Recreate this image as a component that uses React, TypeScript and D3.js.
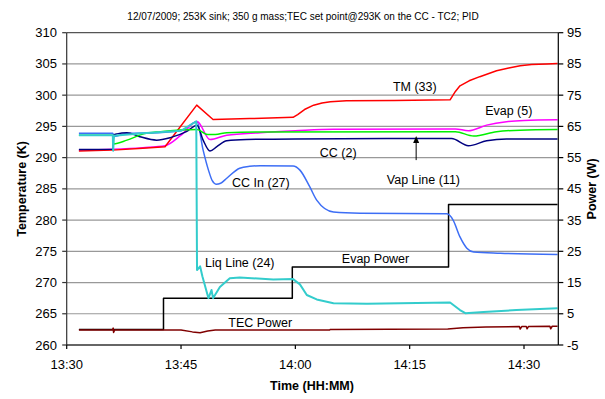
import React from 'react';
import * as d3 from 'd3';

// ---------- data (time = minutes after 13:30) ----------
const TITLE = '12/07/2009; 253K sink; 350 g mass;TEC set point@293K on the CC - TC2; PID';
const TEMP_TICKS = [260, 265, 270, 275, 280, 285, 290, 295, 300, 305, 310];
const POWER_TICKS = [-5, 5, 15, 25, 35, 45, 55, 65, 75, 85, 95];
const TIME_TICKS = ['13:30', '13:45', '14:00', '14:15', '14:30'];
const TIME_END = '14:34:30';

const TM_33: [number, number][] = [
  [1.6, 291.05], [6, 291.2], [10, 291.5], [12.9, 291.75], [17.06, 298.4], [19.2, 296.1],
  [24, 296.25], [29.7, 296.45], [30.3, 296.9], [31.2, 297.7], [32.4, 298.4], [33.5, 298.75],
  [34.6, 298.95], [36.7, 299.1], [43, 299.15], [50.3, 299.25], [51.0, 300.6], [51.6, 301.5],
  [52.8, 302.3], [54.2, 302.96], [56.4, 303.9], [58, 304.35], [59.5, 304.7], [61, 304.9],
  [63, 305.0], [64.4, 305.05],
];
const EVAP_5: [number, number][] = [
  [1.6, 291.2], [6, 291.35], [10, 291.6], [12.9, 291.9], [15, 293.6], [17.1, 295.8],
  [18.8, 292.9], [21, 293.6], [25.4, 294.0], [30, 294.3], [35, 294.55], [51, 294.6],
  [52.7, 294.3], [55.1, 295.2], [57.7, 295.75], [60, 295.95], [64.4, 296.05],
];
const VAP_LINE_11: [number, number][] = [
  [1.6, 293.6], [6.05, 293.6], [6.15, 292.2], [7.9, 292.8], [10.1, 293.8], [12.3, 294.15],
  [17.1, 294.5], [18.5, 293.7], [19.5, 293.7], [21, 294.0], [25, 294.1], [51, 294.15],
  [53.4, 293.45], [56.4, 294.15], [59.5, 294.4], [64.4, 294.5],
];
const CC_2: [number, number][] = [
  [1.6, 291.3], [6.05, 291.35], [6.15, 293.6], [6.6, 293.8], [7.9, 294.0], [9.6, 293.35],
  [11.8, 292.8], [13.6, 293.2], [15.7, 294.15], [17.1, 295.2], [17.9, 292.8], [18.8, 291.05],
  [19.7, 291.75], [21, 292.7], [23.6, 292.9], [30, 293.0], [50.5, 293.05], [52.7, 291.9],
  [55.1, 292.7], [57.7, 293.0], [64.4, 293.0],
];
const CC_IN_27: [number, number][] = [
  [1.6, 293.9], [6.05, 293.9], [6.2, 293.4], [8, 293.9], [12, 294.0], [15, 294.3],
  [17.1, 295.75], [17.9, 291.2], [18.6, 288.0], [19.1, 286.3], [19.6, 285.75], [20.2, 285.9],
  [21, 286.7], [22.7, 288.3], [24, 288.6], [25.4, 288.7], [29.7, 288.65], [30.6, 288.0],
  [31.9, 285.3], [32.8, 283.2], [35, 281.3], [38.5, 281.1], [49.9, 281.0], [50.7, 280.0],
  [51.6, 277.3], [52.5, 275.5], [53.4, 274.9], [56.9, 274.7], [64.4, 274.5],
];
const LIQ_LINE_24: [number, number][] = [
  [1.6, 293.6], [6.05, 293.6], [6.1, 291.1], [6.2, 293.5], [10, 293.9], [15, 294.3],
  [17.0, 295.8], [17.1, 272.0], [17.5, 272.6], [17.8, 271.0], [18.6, 267.5], [19.0, 268.8],
  [19.2, 267.5], [20.1, 269.3], [21.4, 270.7], [22.7, 270.8], [27.1, 270.5], [29.7, 270.55],
  [30.6, 269.7], [31.5, 268.0], [32.8, 267.3], [35, 266.7], [39.4, 266.6], [50.3, 266.8],
  [51.6, 265.6], [52.3, 265.1], [54.7, 265.3], [59, 265.6], [64.4, 265.9],
];
const EVAP_POWER: [number, number][] = [
  [1.6, 0], [12.7, 10], [29.6, 20], [50.1, 40], [64.4, 40],
];
const TEC_POWER: [number, number][] = [
  [1.6, -0.2], [6.0, -0.2], [6.1, 0.4], [6.15, -1.0], [6.3, -0.2], [15, -0.2], [16.5, -0.8],
  [17.5, -1.1], [18.5, -0.5], [19.5, -0.2], [34.5, -0.2], [34.6, 0], [50, 0.1], [52, 0.5],
  [55, 0.8], [59.4, 0.9], [59.5, 0.1], [59.7, 0.9], [60.3, 0.9], [60.4, 0.2], [60.6, 0.95],
  [63.4, 1.0], [63.5, 0.2], [63.7, 1.0], [64.4, 1.0],
];

// annotation anchor points in (minutes, temperature K)
const LABELS: { text: string; t: number; v: number }[] = [
  { text: 'TM (33)', t: 42.8, v: 300.6 },
  { text: 'Evap (5)', t: 54.9, v: 296.8 },
  { text: 'CC (2)', t: 33.2, v: 290.1 },
  { text: 'Vap Line (11)', t: 42.0, v: 285.8 },
  { text: 'CC In (27)', t: 21.7, v: 285.3 },
  { text: 'Liq Line (24)', t: 18.15, v: 272.5 },
  { text: 'Evap Power', t: 36.1, v: 273.05 },
  { text: 'TEC Power', t: 21.2, v: 262.9 },
];
const ARROW = { t: 45.85, from: 289.6, to: 293.45 };

// ---------- layout ----------
const W = 605;
const H = 399;
const L = 66.7;
const R = 558.3;
const T = 32.7;
const B = 345;
const FONT = '"Liberation Sans", Arial, Helvetica, sans-serif';

const BASE = new Date(2009, 6, 12, 13, 30, 0).getTime();
const toDate = (m: number) => new Date(BASE + m * 60000);
const parseHM = (s: string) => {
  const p = s.split(':').map(Number);
  return (p[0] - 13) * 60 + p[1] - 30 + (p[2] || 0) / 60;
};

export default function App() {
  const x = d3.scaleTime().domain([toDate(0), toDate(parseHM(TIME_END))]).range([L, R]);
  const yT = d3.scaleLinear().domain([260, 310]).range([B, T]);
  const yP = d3.scaleLinear().domain([-5, 95]).range([B, T]);
  const fmt = d3.timeFormat('%H:%M');

  const lineT = d3.line<[number, number]>().x(d => x(toDate(d[0]))).y(d => yT(d[1]));
  const smoothT = d3.line<[number, number]>().x(d => x(toDate(d[0]))).y(d => yT(d[1])).curve(d3.curveMonotoneX);
  const lineP = d3.line<[number, number]>().x(d => x(toDate(d[0]))).y(d => yP(d[1]));
  const stepP = d3.line<[number, number]>().x(d => x(toDate(d[0]))).y(d => yP(d[1])).curve(d3.curveStepAfter);

  const series: { d: string; color: string; w: number }[] = [
    { d: stepP(EVAP_POWER)!, color: '#000000', w: 1.5 },
    { d: lineP(TEC_POWER)!, color: '#800000', w: 1.5 },
    { d: smoothT(CC_IN_27)!, color: '#3D6EF5', w: 1.5 },
    { d: smoothT(EVAP_5)!, color: '#FF00FF', w: 1.5 },
    { d: lineT(TM_33)!, color: '#FF0000', w: 1.5 },
    { d: smoothT(CC_2)!, color: '#000080', w: 1.5 },
    { d: smoothT(VAP_LINE_11)!, color: '#00F000', w: 1.5 },
    { d: lineT(LIQ_LINE_24)!, color: '#33CCCC', w: 2 },
  ];

  const ax = x(toDate(ARROW.t));
  const ay1 = yT(ARROW.from);
  const ay2 = yT(ARROW.to);

  return (
    <svg width={W} height={H} style={{ position: 'absolute', left: 0, top: 0, background: '#fff' }} fontFamily={FONT}>
      <rect x={0} y={0} width={W} height={H} fill="#fff" />
      <text x={303} y={19.5} fontSize={10} textAnchor="middle" fill="#000">{TITLE}</text>

      {/* gridlines */}
      {TEMP_TICKS.map(v => (
        <line key={'g' + v} x1={L} x2={R} y1={yT(v)} y2={yT(v)} stroke={v === 310 ? '#555' : '#999'} strokeWidth={1.2} />
      ))}

      {/* series */}
      <g fill="none" strokeLinejoin="round">
        {series.map((s, i) => (
          <path key={i} d={s.d} stroke={s.color} strokeWidth={s.w} />
        ))}
      </g>

      {/* axes */}
      <line x1={L} x2={L} y1={T} y2={B} stroke="#333" strokeWidth={1.2} />
      <line x1={R} x2={R} y1={T} y2={B} stroke="#000" strokeWidth={1.2} />
      <line x1={L} x2={R} y1={B} y2={B} stroke="#000" strokeWidth={1.2} />

      {TEMP_TICKS.map(v => (
        <g key={'lt' + v}>
          <line x1={L - 4.5} x2={L} y1={yT(v)} y2={yT(v)} stroke="#333" strokeWidth={1.2} />
          <text x={57} y={yT(v)} dy="0.35em" fontSize={13} textAnchor="end">{v}</text>
        </g>
      ))}
      {POWER_TICKS.map(v => (
        <g key={'rt' + v}>
          <line x1={R} x2={R + 5} y1={yP(v)} y2={yP(v)} stroke="#000" strokeWidth={1.2} />
          <text x={567} y={yP(v)} dy="0.35em" fontSize={13} textAnchor="start">{v}</text>
        </g>
      ))}
      {TIME_TICKS.map(s => {
        const d = toDate(parseHM(s));
        return (
          <g key={'xt' + s}>
            <line x1={x(d)} x2={x(d)} y1={B} y2={B + 4} stroke="#000" strokeWidth={1.2} />
            <text x={x(d)} y={369} fontSize={13} textAnchor="middle">{fmt(d)}</text>
          </g>
        );
      })}

      {/* axis titles */}
      <text transform={`translate(25.5,${(T + B) / 2}) rotate(-90)`} fontSize={12.5} fontWeight="bold" textAnchor="middle">Temperature (K)</text>
      <text transform={`translate(596,${(T + B) / 2}) rotate(-90)`} fontSize={12.5} fontWeight="bold" textAnchor="middle">Power (W)</text>
      <text x={312} y={390} fontSize={12.5} fontWeight="bold" textAnchor="middle">Time (HH:MM)</text>

      {/* annotations */}
      {LABELS.map(l => (
        <text key={l.text} x={x(toDate(l.t))} y={yT(l.v)} fontSize={12.5} fill="#000">{l.text}</text>
      ))}
      <line x1={ax} x2={ax} y1={ay1} y2={ay2 + 5} stroke="#000" strokeWidth={1} />
      <path d={`M${ax},${ay2} L${ax - 3},${ay2 + 7} L${ax + 3},${ay2 + 7} Z`} fill="#000" />
    </svg>
  );
}
